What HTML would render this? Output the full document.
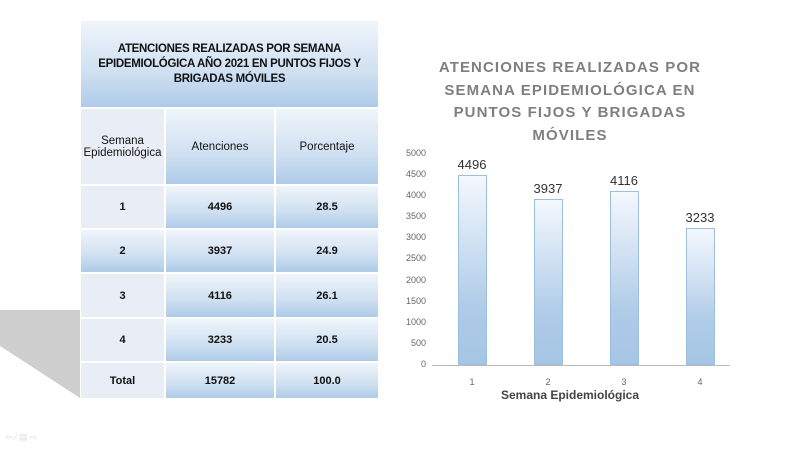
<!DOCTYPE html>
<html><head><meta charset="utf-8"><style>
body{margin:0;width:800px;height:461px;background:#fff;position:relative;overflow:hidden;font-family:"Liberation Sans",sans-serif}
.c{position:absolute;display:flex;align-items:center;justify-content:center;text-align:center;color:#111;font-size:11px;box-sizing:border-box}
.g{background:linear-gradient(#f0f5fb,#cfe0f1 60%,#aecbe8);border:1px solid #fff}
.l{background:#e9eef6;border:1px solid #fff}
.b{font-weight:bold}
.bar{position:absolute;background:linear-gradient(#f4f8fd,#aecbe8 70%,#a6c6e5);border:1px solid #9cbfe0;box-sizing:border-box}
.yl{position:absolute;left:396px;width:30px;text-align:right;font-size:9px;color:#666}
.xl{position:absolute;top:377px;font-size:9px;color:#666;width:20px;text-align:center}
.vl{position:absolute;font-size:13px;color:#333;width:60px;text-align:center}
</style></head><body>
<svg style="position:absolute;left:0;top:0" width="800" height="461"><polygon points="0,310 80,310 80,398 0,346" fill="#cfcfcf"/></svg>
<div class="c g b" style="left:80px;top:20px;width:299px;height:88px;font-size:11.5px;line-height:15px;letter-spacing:-0.3px;padding:0 6px">ATENCIONES REALIZADAS POR SEMANA EPIDEMIOLÓGICA AÑO 2021 EN PUNTOS FIJOS Y BRIGADAS MÓVILES</div>
<div class="c l" style="left:80px;top:108px;width:85px;height:77px;font-size:11.5px">Semana Epidemiológica</div>
<div class="c g" style="left:165px;top:108px;width:110px;height:77px;font-size:11.5px">Atenciones</div>
<div class="c g" style="left:275px;top:108px;width:104px;height:77px;font-size:11.5px">Porcentaje</div>

<div class="c l b" style="left:80px;top:185px;width:85px;height:44px">1</div>
<div class="c g b" style="left:165px;top:185px;width:110px;height:44px">4496</div>
<div class="c g b" style="left:275px;top:185px;width:104px;height:44px">28.5</div>
<div class="c g b" style="left:80px;top:229px;width:85px;height:44px">2</div>
<div class="c g b" style="left:165px;top:229px;width:110px;height:44px">3937</div>
<div class="c g b" style="left:275px;top:229px;width:104px;height:44px">24.9</div>
<div class="c l b" style="left:80px;top:273px;width:85px;height:45px">3</div>
<div class="c g b" style="left:165px;top:273px;width:110px;height:45px">4116</div>
<div class="c g b" style="left:275px;top:273px;width:104px;height:45px">26.1</div>
<div class="c l b" style="left:80px;top:318px;width:85px;height:44px">4</div>
<div class="c g b" style="left:165px;top:318px;width:110px;height:44px">3233</div>
<div class="c g b" style="left:275px;top:318px;width:104px;height:44px">20.5</div>
<div class="c l b" style="left:80px;top:362px;width:85px;height:37px">Total</div>
<div class="c g b" style="left:165px;top:362px;width:110px;height:37px">15782</div>
<div class="c g b" style="left:275px;top:362px;width:104px;height:37px">100.0</div>

<div style="position:absolute;left:420px;top:57px;width:300px;text-align:center;color:#7f7f7f;font-weight:bold;font-size:15px;letter-spacing:1.1px;line-height:22.5px">ATENCIONES REALIZADAS POR SEMANA EPIDEMIOLÓGICA EN PUNTOS FIJOS Y BRIGADAS MÓVILES</div>

<div class="yl" style="top:148px">5000</div><div class="yl" style="top:169px">4500</div><div class="yl" style="top:190px">4000</div><div class="yl" style="top:211px">3500</div><div class="yl" style="top:232px">3000</div><div class="yl" style="top:253px">2500</div><div class="yl" style="top:275px">2000</div><div class="yl" style="top:296px">1500</div><div class="yl" style="top:317px">1000</div><div class="yl" style="top:338px">500</div><div class="yl" style="top:359px">0</div>
<div style="position:absolute;left:432px;top:365px;width:298px;height:1px;background:#bbb"></div>

<div class="bar" style="left:458px;top:175px;width:29px;height:190px"></div>
<div class="bar" style="left:534px;top:199px;width:29px;height:166px"></div>
<div class="bar" style="left:610px;top:191px;width:29px;height:174px"></div>
<div class="bar" style="left:686px;top:228px;width:29px;height:137px"></div>
<div class="vl" style="left:442px;top:157px">4496</div>
<div class="vl" style="left:518px;top:181px">3937</div>
<div class="vl" style="left:594px;top:173px">4116</div>
<div class="vl" style="left:670px;top:210px">3233</div>
<div class="xl" style="left:462px">1</div><div class="xl" style="left:538px">2</div><div class="xl" style="left:614px">3</div><div class="xl" style="left:690px">4</div>
<div style="position:absolute;left:480px;top:388px;width:180px;text-align:center;font-size:12px;font-weight:bold;color:#444">Semana Epidemiológica</div>
<div style="position:absolute;left:5px;top:432px;font-size:9px;color:#ddd">⇦ ⁄ ▤ ⇨</div>
</body></html>
